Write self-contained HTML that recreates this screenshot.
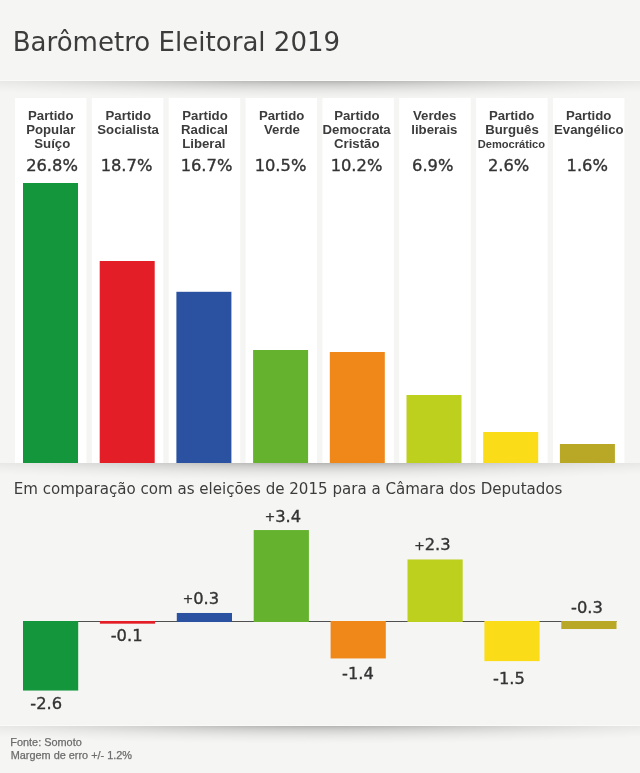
<!DOCTYPE html>
<html lang="pt"><head><meta charset="utf-8"><title>Barômetro Eleitoral 2019</title>
<style>
html,body{margin:0;padding:0;background:#f5f5f3;overflow:hidden;}
body{width:640px;height:773px;}
svg{display:block;}
text{white-space:pre;}
.h1{font-family:"DejaVu Sans", "Liberation Sans", sans-serif;font-size:26.05px;fill:#3c3c3c;}
.h2{font-family:"DejaVu Sans", "Liberation Sans", sans-serif;font-size:15.07px;fill:#3c3c3c;}
.nm{font-family:"Liberation Sans", sans-serif;font-weight:700;font-size:13.2px;fill:#3c3c3c;}
.sm{font-size:11.1px;}
.pl{font-size:12.5px;}
.val{font-family:"DejaVu Sans", "Liberation Sans", sans-serif;font-size:16.3px;fill:#333;stroke:#333;stroke-width:.35px;}
.ft{font-family:"Liberation Sans", sans-serif;font-size:10.9px;fill:#6c6c6c;stroke:#6c6c6c;stroke-width:.25px;}
</style></head><body>
<svg width="640" height="773" viewBox="0 0 640 773">
<defs>
<radialGradient id="rg0" gradientUnits="userSpaceOnUse" cx="320" cy="71" r="28" gradientTransform="translate(320 71) scale(17.86 1) translate(-320 -71)">
<stop offset="0" stop-color="#000" stop-opacity="0.27"/>
<stop offset="0.357" stop-color="#000" stop-opacity="0.27"/>
<stop offset="0.4" stop-color="#000" stop-opacity="0.227"/>
<stop offset="0.45" stop-color="#000" stop-opacity="0.186"/>
<stop offset="0.5" stop-color="#000" stop-opacity="0.152"/>
<stop offset="0.55" stop-color="#000" stop-opacity="0.125"/>
<stop offset="0.6" stop-color="#000" stop-opacity="0.102"/>
<stop offset="0.65" stop-color="#000" stop-opacity="0.083"/>
<stop offset="0.7" stop-color="#000" stop-opacity="0.062"/>
<stop offset="0.8" stop-color="#000" stop-opacity="0.034"/>
<stop offset="0.9" stop-color="#000" stop-opacity="0.014"/>
<stop offset="1" stop-color="#000" stop-opacity="0"/>
</radialGradient>
<radialGradient id="rg1" gradientUnits="userSpaceOnUse" cx="320" cy="453" r="28" gradientTransform="translate(320 453) scale(17.86 1) translate(-320 -453)">
<stop offset="0" stop-color="#000" stop-opacity="0.27"/>
<stop offset="0.357" stop-color="#000" stop-opacity="0.27"/>
<stop offset="0.4" stop-color="#000" stop-opacity="0.227"/>
<stop offset="0.45" stop-color="#000" stop-opacity="0.186"/>
<stop offset="0.5" stop-color="#000" stop-opacity="0.152"/>
<stop offset="0.55" stop-color="#000" stop-opacity="0.125"/>
<stop offset="0.6" stop-color="#000" stop-opacity="0.102"/>
<stop offset="0.65" stop-color="#000" stop-opacity="0.083"/>
<stop offset="0.7" stop-color="#000" stop-opacity="0.062"/>
<stop offset="0.8" stop-color="#000" stop-opacity="0.034"/>
<stop offset="0.9" stop-color="#000" stop-opacity="0.014"/>
<stop offset="1" stop-color="#000" stop-opacity="0"/>
</radialGradient>
<radialGradient id="rg2" gradientUnits="userSpaceOnUse" cx="320" cy="716" r="28" gradientTransform="translate(320 716) scale(17.86 1) translate(-320 -716)">
<stop offset="0" stop-color="#000" stop-opacity="0.27"/>
<stop offset="0.357" stop-color="#000" stop-opacity="0.27"/>
<stop offset="0.4" stop-color="#000" stop-opacity="0.227"/>
<stop offset="0.45" stop-color="#000" stop-opacity="0.186"/>
<stop offset="0.5" stop-color="#000" stop-opacity="0.152"/>
<stop offset="0.55" stop-color="#000" stop-opacity="0.125"/>
<stop offset="0.6" stop-color="#000" stop-opacity="0.102"/>
<stop offset="0.65" stop-color="#000" stop-opacity="0.083"/>
<stop offset="0.7" stop-color="#000" stop-opacity="0.062"/>
<stop offset="0.8" stop-color="#000" stop-opacity="0.034"/>
<stop offset="0.9" stop-color="#000" stop-opacity="0.014"/>
<stop offset="1" stop-color="#000" stop-opacity="0"/>
</radialGradient>
</defs>
<rect x="0" y="0" width="640" height="773" fill="#f5f5f3"/>
<rect x="0" y="81" width="640" height="20" fill="url(#rg0)"/>
<rect x="0" y="463" width="640" height="20" fill="url(#rg1)"/>
<rect x="0" y="726" width="640" height="20" fill="url(#rg2)"/>
<g fill="#fafaf8"><rect x="0" y="80" width="640" height="1"/><rect x="0" y="725" width="640" height="1"/></g>

<g fill="#fff">
<rect x="15.00" y="98" width="71.5" height="365"/>
<rect x="91.85" y="98" width="71.5" height="365"/>
<rect x="168.70" y="98" width="71.5" height="365"/>
<rect x="245.55" y="98" width="71.5" height="365"/>
<rect x="322.40" y="98" width="71.5" height="365"/>
<rect x="399.25" y="98" width="71.5" height="365"/>
<rect x="476.10" y="98" width="71.5" height="365"/>
<rect x="552.95" y="98" width="71.5" height="365"/>
</g>
<rect x="23.00" y="183" width="55" height="280" fill="#14963c"/>
<rect x="99.70" y="261" width="55" height="202" fill="#e41e26"/>
<rect x="176.40" y="291.8" width="55" height="171.2" fill="#2a52a0"/>
<rect x="253.10" y="350" width="55" height="113" fill="#64b22e"/>
<rect x="329.80" y="352" width="55" height="111" fill="#f08819"/>
<rect x="406.50" y="395" width="55" height="68" fill="#bdd01e"/>
<rect x="483.20" y="432" width="55" height="31" fill="#fadc19"/>
<rect x="559.90" y="444" width="55" height="19" fill="#b9a825"/>
<rect x="23" y="621" width="593.50" height="1" fill="#505050"/>
<rect x="23.00" y="621.00" width="55.2" height="69.55" fill="#14963c"/>
<rect x="99.90" y="621.00" width="55.2" height="2.68" fill="#e41e26"/>
<rect x="176.80" y="612.98" width="55.2" height="9.03" fill="#2a52a0"/>
<rect x="253.70" y="530.05" width="55.2" height="91.95" fill="#64b22e"/>
<rect x="330.60" y="621.00" width="55.2" height="37.45" fill="#f08819"/>
<rect x="407.50" y="559.48" width="55.2" height="62.52" fill="#bdd01e"/>
<rect x="484.40" y="621.00" width="55.2" height="40.12" fill="#fadc19"/>
<rect x="561.30" y="621.00" width="55.2" height="8.03" fill="#b9a825"/>
<text id="title" class="h1" text-anchor="middle" x="176.45" y="50.80">Barômetro Eleitoral 2019</text>
<text id="sub" class="h2" text-anchor="middle" x="288.05" y="494.40">Em comparação com as eleições de 2015 para a Câmara dos Deputados</text>
<text id="n0_0" class="nm" text-anchor="middle" x="50.75" y="120.00">Partido</text>
<text id="n0_1" class="nm" text-anchor="middle" x="50.75" y="134.00">Popular</text>
<text id="n0_2" class="nm" text-anchor="middle" x="52.25" y="147.50">Suíço</text>
<text id="n1_0" class="nm" text-anchor="middle" x="128.25" y="120.00">Partido</text>
<text id="n1_1" class="nm" text-anchor="middle" x="128.13" y="134.00">Socialista</text>
<text id="n2_0" class="nm" text-anchor="middle" x="205.00" y="120.00">Partido</text>
<text id="n2_1" class="nm" text-anchor="middle" x="204.50" y="134.00">Radical</text>
<text id="n2_2" class="nm" text-anchor="middle" x="203.87" y="147.50">Liberal</text>
<text id="n3_0" class="nm" text-anchor="middle" x="281.63" y="120.00">Partido</text>
<text id="n3_1" class="nm" text-anchor="middle" x="282.00" y="134.00">Verde</text>
<text id="n4_0" class="nm" text-anchor="middle" x="356.87" y="120.00">Partido</text>
<text id="n4_1" class="nm" text-anchor="middle" x="356.63" y="134.00">Democrata</text>
<text id="n4_2" class="nm" text-anchor="middle" x="356.75" y="147.50">Cristão</text>
<text id="n5_0" class="nm" text-anchor="middle" x="434.63" y="120.00">Verdes</text>
<text id="n5_1" class="nm" text-anchor="middle" x="434.37" y="134.00">liberais</text>
<text id="n6_0" class="nm" text-anchor="middle" x="511.63" y="120.00">Partido</text>
<text id="n6_1" class="nm" text-anchor="middle" x="512.00" y="134.00">Burguês</text>
<text id="n6_2" class="nm sm" text-anchor="middle" x="511.37" y="147.50">Democrático</text>
<text id="n7_0" class="nm" text-anchor="middle" x="588.63" y="120.00">Partido</text>
<text id="n7_1" class="nm" text-anchor="middle" x="588.87" y="134.00">Evangélico</text>
<text id="v0" class="val" text-anchor="middle" x="52.00" y="170.50">26.8%</text>
<text id="v1" class="val" text-anchor="middle" x="126.50" y="170.50">18.7%</text>
<text id="v2" class="val" text-anchor="middle" x="206.50" y="170.50">16.7%</text>
<text id="v3" class="val" text-anchor="middle" x="280.50" y="170.50">10.5%</text>
<text id="v4" class="val" text-anchor="middle" x="356.50" y="170.50">10.2%</text>
<text id="v5" class="val" text-anchor="middle" x="432.75" y="170.50">6.9%</text>
<text id="v6" class="val" text-anchor="middle" x="508.63" y="170.50">2.6%</text>
<text id="v7" class="val" text-anchor="middle" x="587.25" y="170.50">1.6%</text>
<text id="l0" class="val" text-anchor="middle" x="46.25" y="709.00">-2.6</text>
<text id="l1" class="val" text-anchor="middle" x="126.64" y="640.75">-0.1</text>
<text id="l2" class="val" text-anchor="middle" x="200.87" y="603.75"><tspan class="pl" dy="-0.6">+</tspan><tspan dy="0.6">0.3</tspan></text>
<text id="l3" class="val" text-anchor="middle" x="282.87" y="522.00"><tspan class="pl" dy="-0.6">+</tspan><tspan dy="0.6">3.4</tspan></text>
<text id="l4" class="val" text-anchor="middle" x="357.95" y="679.10">-1.4</text>
<text id="l5" class="val" text-anchor="middle" x="432.40" y="550.30"><tspan class="pl" dy="-0.6">+</tspan><tspan dy="0.6">2.3</tspan></text>
<text id="l6" class="val" text-anchor="middle" x="509.00" y="684.00">-1.5</text>
<text id="l7" class="val" text-anchor="middle" x="587.00" y="612.90">-0.3</text>
<text id="f0" class="ft" text-anchor="middle" x="46.00" y="745.75">Fonte: Somoto</text>
<text id="f1" class="ft" text-anchor="middle" x="71.36" y="759.25">Margem de erro +/- 1.2%</text>
</svg>
</body></html>
